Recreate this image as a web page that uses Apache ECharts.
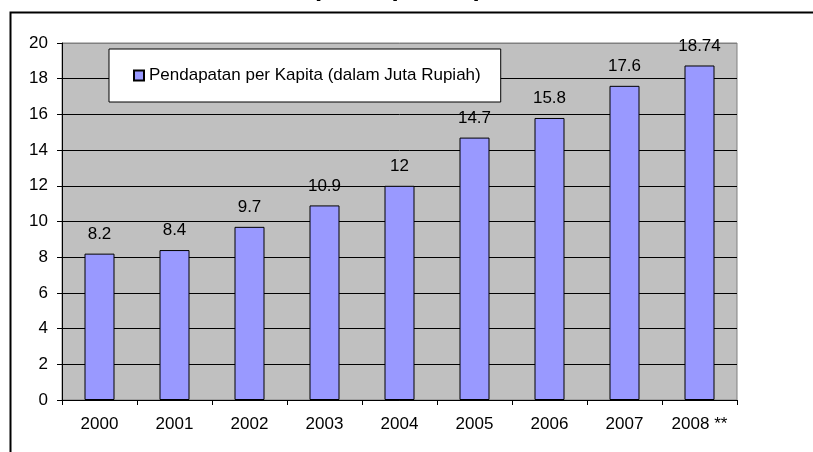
<!DOCTYPE html>
<html>
<head>
<meta charset="utf-8">
<script src="https://cdn.jsdelivr.net/npm/echarts@6/dist/echarts.min.js"></script>
<style>
html,body{margin:0;padding:0;background:#fff;}
#c{width:813px;height:452px;}
</style>
</head>
<body>
<div id="c"></div>
<script>
var titleText = 'Pendapatan per Kapita';
var seriesName = 'Pendapatan per Kapita (dalam Juta Rupiah)';
var years = ['2000','2001','2002','2003','2004','2005','2006','2007','2008 **'];
var values = [8.2, 8.4, 9.7, 10.9, 12, 14.7, 15.8, 17.6, 18.74];
var yMin = 0, yMax = 20, yStep = 2;

var font = 'Liberation Sans, Arial, sans-serif';
var splitColors = [];
for (var i = 0; i <= (yMax - yMin) / yStep; i++) splitColors.push(i === (yMax - yMin) / yStep ? '#808080' : '#000');

var chart = echarts.init(document.getElementById('c'), null, {renderer: 'canvas'});
chart.setOption({
  animation: false,
  backgroundColor: '#fff',
  textStyle: {fontFamily: font},
  title: {
    text: titleText,
    left: 237,
    top: -24,
    padding: 0,
    textStyle: {fontFamily: font, fontSize: 26, fontWeight: 'bold', color: '#000', lineHeight: 26}
  },
  graphic: [{
    type: 'rect',
    left: 8, top: 10,
    shape: {width: 900, height: 600},
    style: {fill: 'none', stroke: '#000', lineWidth: 2},
    silent: true, z: 100
  }],
  legend: {
    left: 109, top: 49, width: 395,
    padding: [18, 20, 18, 24],
    backgroundColor: '#fff',
    borderColor: '#000', borderWidth: 1,
    itemWidth: 10, itemHeight: 10, itemGap: 6,
    textStyle: {fontFamily: font, fontSize: 17, color: '#000'},
    data: [{name: seriesName, icon: 'rect'}]
  },
  grid: {
    left: 62, right: 76, top: 43, bottom: 52,
    show: true, backgroundColor: '#C0C0C0', borderColor: '#808080', borderWidth: 1
  },
  xAxis: {
    type: 'category',
    data: years,
    axisLine: {lineStyle: {color: '#000', width: 1}},
    axisTick: {show: true, length: 5, alignWithLabel: false, lineStyle: {color: '#000'}},
    axisLabel: {fontFamily: font, fontSize: 17, color: '#000', margin: 16}
  },
  yAxis: {
    type: 'value',
    min: yMin, max: yMax, interval: yStep,
    axisLine: {show: true, lineStyle: {color: '#000', width: 1}},
    axisTick: {show: true, length: 5, lineStyle: {color: '#000'}},
    axisLabel: {fontFamily: font, fontSize: 17, color: '#000', margin: 14},
    splitLine: {show: true, lineStyle: {color: splitColors, width: 1}}
  },
  series: [{
    name: seriesName,
    type: 'bar',
    data: values,
    barWidth: '40%',
    itemStyle: {color: '#9999FF', borderColor: '#000', borderWidth: 1},
    label: {
      show: true, position: 'top', distance: 11,
      fontFamily: font, fontSize: 17, color: '#000'
    }
  }]
});
</script>
</body>
</html>
